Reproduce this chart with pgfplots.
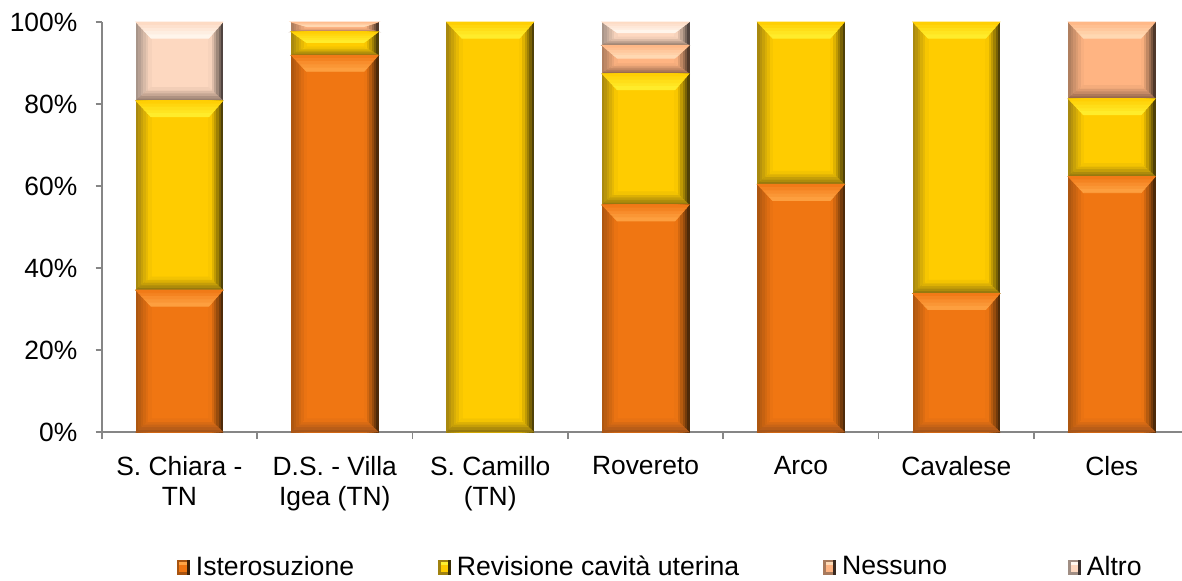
\documentclass[border=0pt]{standalone}
\usepackage{pgfplots}
\pgfplotsset{compat=1.18}
\usepackage{pgfplotstable}
\usepackage{fontspec}
\setmainfont{Liberation Sans}

\definecolor{axisgray}{HTML}{868686}
% Isterosuzione
\definecolor{istM}{HTML}{F07612}
\definecolor{istT}{HTML}{FFA445}
\definecolor{istB}{HTML}{A0521A}
\definecolor{istL}{HTML}{A85410}
\definecolor{istR}{HTML}{3A2008}
% Revisione
\definecolor{revM}{HTML}{FFCC00}
\definecolor{revT}{HTML}{FFF030}
\definecolor{revB}{HTML}{8A7010}
\definecolor{revL}{HTML}{A08210}
\definecolor{revR}{HTML}{3A3008}
% Nessuno
\definecolor{nesM}{HTML}{FFB482}
\definecolor{nesT}{HTML}{FFDCB8}
\definecolor{nesB}{HTML}{8C6048}
\definecolor{nesL}{HTML}{A87A5C}
\definecolor{nesR}{HTML}{3A2A20}
% Altro
\definecolor{altM}{HTML}{FDD8C0}
\definecolor{altT}{HTML}{FFF8F0}
\definecolor{altB}{HTML}{8C7466}
\definecolor{altL}{HTML}{A08E84}
\definecolor{altR}{HTML}{3A3230}

\pgfdeclareplotmark{nothing}{}

\def\bvW{21.675}\def\bvSL{7.5}\def\bvSR{7}
% one pair of side strips (#2 = index 0..5)
\newcommand\bvSide[2]{%
  \pgfmathsetmacro\bvXa{-\bvW+#2*\bvSL/6}%
  \pgfmathsetmacro\bvXb{-\bvW+(#2+1)*\bvSL/6+0.05}%
  \pgfmathparse{int(100-(#2+0.5)/6*100)}\let\bvPC\pgfmathresult
  \fill[#1L!\bvPC!#1M] (\bvXa pt,0pt) rectangle (\bvXb pt,-\bvH pt);
  \pgfmathsetmacro\bvXc{\bvW-#2*\bvSR/6}%
  \pgfmathsetmacro\bvXd{\bvW-(#2+1)*\bvSR/6-0.05}%
  \pgfmathparse{int(100*(1-(#2+0.5)/6)^1.3)}\let\bvPR\pgfmathresult
  \fill[#1R!\bvPR!#1M] (\bvXc pt,0pt) rectangle (\bvXd pt,-\bvH pt);}
% one slice of the top bevel (#2 = index 0..4)
\newcommand\bvTopS[2]{%
  \pgfmathsetmacro\bvYa{-#2*\bvT/5}%
  \pgfmathsetmacro\bvYb{-(#2+1)*\bvT/5}%
  \pgfmathsetmacro\bvYbo{\bvYb-0.05}%
  \pgfmathsetmacro\bvLa{-\bvW+\bvSL*(-\bvYa)/\bvT}%
  \pgfmathsetmacro\bvLb{-\bvW+\bvSL*(-\bvYb)/\bvT}%
  \pgfmathsetmacro\bvRa{\bvW-\bvSR*(-\bvYa)/\bvT}%
  \pgfmathsetmacro\bvRb{\bvW-\bvSR*(-\bvYb)/\bvT}%
  \pgfmathparse{int((#2+0.5)/5*100)}\let\bvPT\pgfmathresult
  \fill[#1T!\bvPT!#1M] (\bvLa pt,\bvYa pt) -- (\bvRa pt,\bvYa pt) -- (\bvRb pt,\bvYbo pt) -- (\bvLb pt,\bvYbo pt) -- cycle;}
% one slice of the bottom bevel (#2 = index 0..4)
\newcommand\bvBotS[2]{%
  \pgfmathsetmacro\bvYa{-\bvH+#2*\bvB/5}%
  \pgfmathsetmacro\bvYb{-\bvH+(#2+1)*\bvB/5}%
  \pgfmathsetmacro\bvYbo{\bvYb+0.05}%
  \pgfmathsetmacro\bvLa{-\bvW+\bvSL*(\bvYa+\bvH)/\bvB}%
  \pgfmathsetmacro\bvLb{-\bvW+\bvSL*(\bvYb+\bvH)/\bvB}%
  \pgfmathsetmacro\bvRa{\bvW-\bvSR*(\bvYa+\bvH)/\bvB}%
  \pgfmathsetmacro\bvRb{\bvW-\bvSR*(\bvYb+\bvH)/\bvB}%
  \pgfmathparse{int(100-(#2+0.5)/5*100)}\let\bvPB\pgfmathresult
  \fill[#1B!\bvPB!#1M] (\bvLa pt,\bvYa pt) -- (\bvRa pt,\bvYa pt) -- (\bvRb pt,\bvYbo pt) -- (\bvLb pt,\bvYbo pt) -- cycle;}

% bevelled bar drawn at each stacked data point (top of segment), height from data
\newcommand\bevelbar[2]{%
  \begingroup
  \pgfkeys{/pgf/fpu=false}%
  \pgfmathsetmacro\bvH{#2*2.05}%
  \pgfmathparse{\bvH>0.05 ? 1 : 0}%
  \ifnum\pgfmathresult>0
    \pgfmathsetmacro\bvT{min(8,\bvH*0.45)}%
    \pgfmathsetmacro\bvB{min(6.5,\bvH*0.35)}%
    \fill[#1M] (-\bvW pt,0pt) rectangle (\bvW pt,-\bvH pt);
    \bvSide{#1}{0}\bvSide{#1}{1}\bvSide{#1}{2}\bvSide{#1}{3}\bvSide{#1}{4}\bvSide{#1}{5}%
    \bvTopS{#1}{0}\bvTopS{#1}{1}\bvTopS{#1}{2}\bvTopS{#1}{3}\bvTopS{#1}{4}%
    \bvBotS{#1}{0}\bvBotS{#1}{1}\bvBotS{#1}{2}\bvBotS{#1}{3}\bvBotS{#1}{4}%
  \fi
  \endgroup}

\pgfplotsset{
  bevel/.style={
    scatter, only marks, mark=nothing,
    point meta=\thisrow{#1},
    scatter/@pre marker code/.code={%
      \pgfmathfloattofixed{\pgfplotspointmeta}\let\bvVal\pgfmathresult
      \bevelbar{#1}{\bvVal}},
    scatter/@post marker code/.code={},
    legend image code/.code={%
      \fill[#1R] (0pt,-3.5pt) rectangle (6pt,3.5pt);
      \fill[#1L] (0pt,-3.5pt) rectangle (4.5pt,3.5pt);
      \fill[#1M] (1.2pt,-2.3pt) rectangle (4.5pt,2.3pt);
      \fill[#1T] (1.2pt,1.2pt) rectangle (4.5pt,2.3pt);}
  }
}

\pgfplotstableread{
x ist rev nes alt
0 34.6 46.2 0 19.2
1 91.9 5.7 2.4 0
2 0 100 0 0
3 55.4 32.0 6.9 5.7
4 60.4 39.6 0 0
5 33.8 66.2 0 0
6 62.3 19.0 18.7 0
}\datatable

\begin{document}
\begin{tikzpicture}
\begin{axis}[
  at={(0,0)}, anchor=south west,
  scale only axis, width=540.15pt, height=205pt,
  xmin=-0.5, xmax=6.452, ymin=0, ymax=100,
  stack plots=y,
  axis x line*=bottom, axis y line*=left,
  axis line style={draw=axisgray, line width=0.8pt, -},
  xtick={0,...,6},
  xticklabels={{S. Chiara -\\TN},{D.S. - Villa\\Igea (TN)},{S. Camillo\\(TN)},Rovereto,Arco,Cavalese,Cles},
  minor xtick={-0.5,0.5,...,5.5},
  major x tick style={draw=none},
  ytick={0,20,...,100},
  yticklabel={\pgfmathprintnumber{\tick}\%},
  /pgf/number format/assume math mode=true,
  tick align=outside,
  tick style={draw=axisgray, line width=0.8pt},
  major tick length=3pt, minor tick length=3.5pt,
  tick label style={font=\fontsize{13.2}{15}\selectfont},
  xticklabel style={align=center, anchor=north, inner sep=0pt, yshift=-9pt},
  yticklabel style={anchor=east, inner sep=0pt, xshift=-9pt},
  legend columns=4,
  legend cell align=left,
  legend style={draw=none, fill=none, font=\fontsize{13.3}{15}\selectfont,
    at={(axis description cs:0.5,0)}, anchor=center, yshift=-67.5pt, xshift=9.5pt,
    nodes={inner sep=1.5pt},
    /tikz/every odd column/.append style={column sep=1.5pt},
    /tikz/every even column/.append style={column sep=40.5pt}},
]
\addplot[bevel=ist] table[x=x, y=ist] {\datatable};
\addlegendentry{Isterosuzione}
\addplot[bevel=rev] table[x=x, y=rev] {\datatable};
\addlegendentry{Revisione cavità uterina}
\addplot[bevel=nes] table[x=x, y=nes] {\datatable};
\addlegendentry{\makebox[71pt][l]{Nessuno}}
\addplot[bevel=alt] table[x=x, y=alt] {\datatable};
\addlegendentry{Altro}
\end{axis}
\pgfresetboundingbox
\path[use as bounding box] (-50.85pt,-74pt) rectangle (540.15pt,216pt);
\end{tikzpicture}
\end{document}
